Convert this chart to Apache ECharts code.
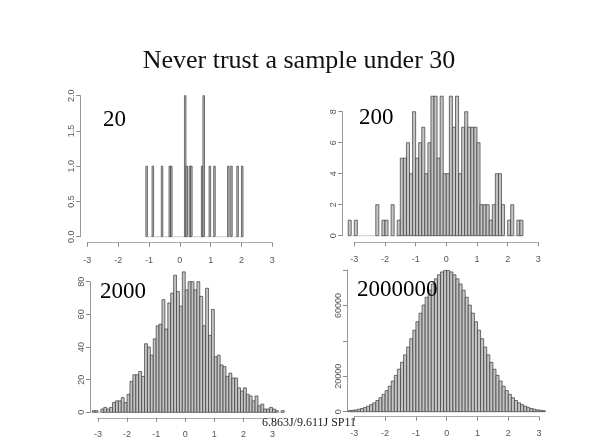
<!DOCTYPE html>
<html>
<head>
<meta charset="utf-8">
<script src="https://cdn.jsdelivr.net/npm/echarts/dist/echarts.min.js"></script>
<style>
  html, body { margin: 0; padding: 0; background: #fff; }
  #chart { width: 589px; height: 442px; }
</style>
</head>
<body>
<div id="chart"></div>
<script>
// histogram counts, one array per sample size
const start20 = -1.10, width20 = 0.05
const counts20 = [
  1, 0, 0, 0, 1, 0, 0, 0, 0, 0,
  1, 0, 0, 0, 0, 1, 1, 0, 0, 0,
  0, 0, 0, 0, 0, 2, 1, 0, 1, 1,
  0, 0, 0, 0, 0, 0, 1, 2, 0, 0,
  0, 1, 0, 0, 1, 0, 0, 0, 0, 0,
  0, 0, 0, 1, 0, 1, 0, 0, 0, 1,
  0, 0, 1
]

const start200 = -3.2, width200 = 0.1
const counts200 = [
  1, 0, 1, 0, 0, 0, 0, 0, 0, 2,
  0, 1, 1, 0, 2, 0, 1, 5, 5, 6,
  4, 8, 5, 6, 7, 4, 6, 9, 9, 5,
  9, 4, 4, 9, 7, 9, 4, 7, 8, 7,
  7, 7, 6, 2, 2, 2, 1, 2, 4, 4,
  2, 0, 1, 2, 0, 1, 1
]

const start2000 = -3.2, width2000 = 0.1
const counts2000 = [
  1, 1, 0,
  2, 3, 2, 3, 6, 7, 7, 9, 6, 11,
  19, 23, 23, 25, 22, 42, 40, 35, 45, 53,
  54, 69, 51, 67, 73, 84, 74, 65, 86, 75,
  80, 80, 75, 80, 71, 53, 76, 47, 63, 34,
  35, 29, 28, 22, 24, 21, 21, 15, 13, 15,
  11, 10, 7, 10, 4, 5, 2, 2, 3, 2, 1,
  0, 1
]

const start2M = -3.2, width2M = 0.1
const counts2M = [
  600, 800, 1000, 1400, 1800, 2400, 3100, 4000, 5000, 6300,
  7900, 9800, 11900, 14400, 17300, 20500, 24000, 27900, 32100, 36500,
  41200, 46000, 50800, 55600, 60200, 64600, 68600, 72100, 75000, 77300,
  78900, 79700, 79700, 78900, 77300, 75000, 72100, 68600, 64600, 60200,
  55600, 50800, 46000, 41200, 36500, 32100, 27900, 24000, 20500, 17300,
  14400, 11900, 9800, 7900, 6300, 5000, 4000, 3100, 2400, 1800,
  1400, 1000, 800, 600
]

const panelLabels = ['20', '200', '2000', '2000000']
const yMax = [2, 8, 80, 80000]
const yStep = [0.5, 2, 20, 20000]

function toBins(start, w, counts) {
  return counts.map((c, i) => [
    Math.round((start + i * w) * 1000) / 1000,
    Math.round((start + (i + 1) * w) * 1000) / 1000,
    c
  ])
}

function renderBar(params, api) {
  const top = api.coord([api.value(0), api.value(2)])
  const bottom = api.coord([api.value(1), 0])
  const empty = api.value(2) === 0
  return {
    type: 'rect',
    shape: { x: top[0], y: top[1], width: bottom[0] - top[0], height: bottom[1] - top[1] },
    style: {
      fill: '#c4c4c4',
      stroke: empty ? '#cfcfcf' : '#3a3a3a',
      lineWidth: 0.7
    }
  }
}

const grids = [
  { left: 87.3, top: 95.7, width: 185, height: 141 },
  { left: 354.3, top: 111.7, width: 184, height: 124 },
  { left: 98, top: 281.7, width: 174.5, height: 130.6 },
  { left: 354.3, top: 270, width: 184.8, height: 141.7 }
]
const yOffsets = [7, 12, 8, 7.3]
const xOffsets = [6, 6.6, 5.5, 5]

const axisFont = { fontFamily: 'Liberation Sans', fontSize: 9, color: '#555' }

const chart = echarts.init(document.getElementById('chart'), null, { renderer: 'canvas' })

const option = {
  backgroundColor: '#fff',
  animation: false,
  grid: grids.map(g => Object.assign({ containLabel: false }, g)),
  xAxis: grids.map((g, k) => ({
    type: 'value',
    gridIndex: k,
    position: 'bottom',
    min: -3,
    max: 3,
    interval: 1,
    offset: xOffsets[k],
    splitLine: { show: false },
    axisLine: { onZero: false, lineStyle: { color: '#aaa', width: 1 } },
    axisTick: { length: 4, lineStyle: { color: '#888' } },
    axisLabel: Object.assign({ margin: k < 2 ? 13 : 12 }, axisFont)
  })),
  yAxis: grids.map((g, k) => ({
    type: 'value',
    gridIndex: k,
    position: 'left',
    min: 0,
    max: yMax[k],
    interval: yStep[k],
    offset: yOffsets[k],
    splitLine: { show: false },
    axisLine: { show: true, onZero: false, lineStyle: { color: '#999', width: 1 } },
    axisTick: { show: true, length: 4, lineStyle: { color: '#888' } },
    axisLabel: Object.assign({
      rotate: 90,
      margin: 4,
      formatter: v => {
        if (k === 0) return v.toFixed(1)
        if (k === 3 && (v === 40000 || v === 80000)) return ''
        return String(v)
      }
    }, axisFont)
  })),
  series: [
    toBins(start20, width20, counts20),
    toBins(start200, width200, counts200),
    toBins(start2000, width2000, counts2000),
    toBins(start2M, width2M, counts2M)
  ].map((bins, k) => ({
    type: 'custom',
    xAxisIndex: k,
    yAxisIndex: k,
    clip: false,
    renderItem: renderBar,
    data: bins
  })),
  graphic: [
    {
      type: 'text', z: 100,
      style: { text: 'Never trust a sample under 30', x: 299, y: 61, textAlign: 'center', textVerticalAlign: 'middle', font: '26px "Liberation Serif"', fill: '#111' }
    },
    {
      type: 'text', z: 100,
      style: { text: panelLabels[0], x: 103, y: 120, textVerticalAlign: 'middle', font: '23px "Liberation Serif"', fill: '#000' }
    },
    {
      type: 'text', z: 100,
      style: { text: panelLabels[1], x: 359, y: 118, textVerticalAlign: 'middle', font: '23px "Liberation Serif"', fill: '#000' }
    },
    {
      type: 'text', z: 100,
      style: { text: panelLabels[2], x: 100, y: 292, textVerticalAlign: 'middle', font: '23px "Liberation Serif"', fill: '#000' }
    },
    {
      type: 'text', z: 100,
      style: { text: panelLabels[3], x: 357, y: 290, textVerticalAlign: 'middle', font: '23px "Liberation Serif"', fill: '#000' }
    },
    {
      type: 'text', z: 100,
      style: { text: '6.863J/9.611J SP11', x: 309, y: 423, textAlign: 'center', textVerticalAlign: 'middle', font: '12px "Liberation Serif"', fill: '#222' }
    }
  ]
}

chart.setOption(option)
</script>
</body>
</html>
